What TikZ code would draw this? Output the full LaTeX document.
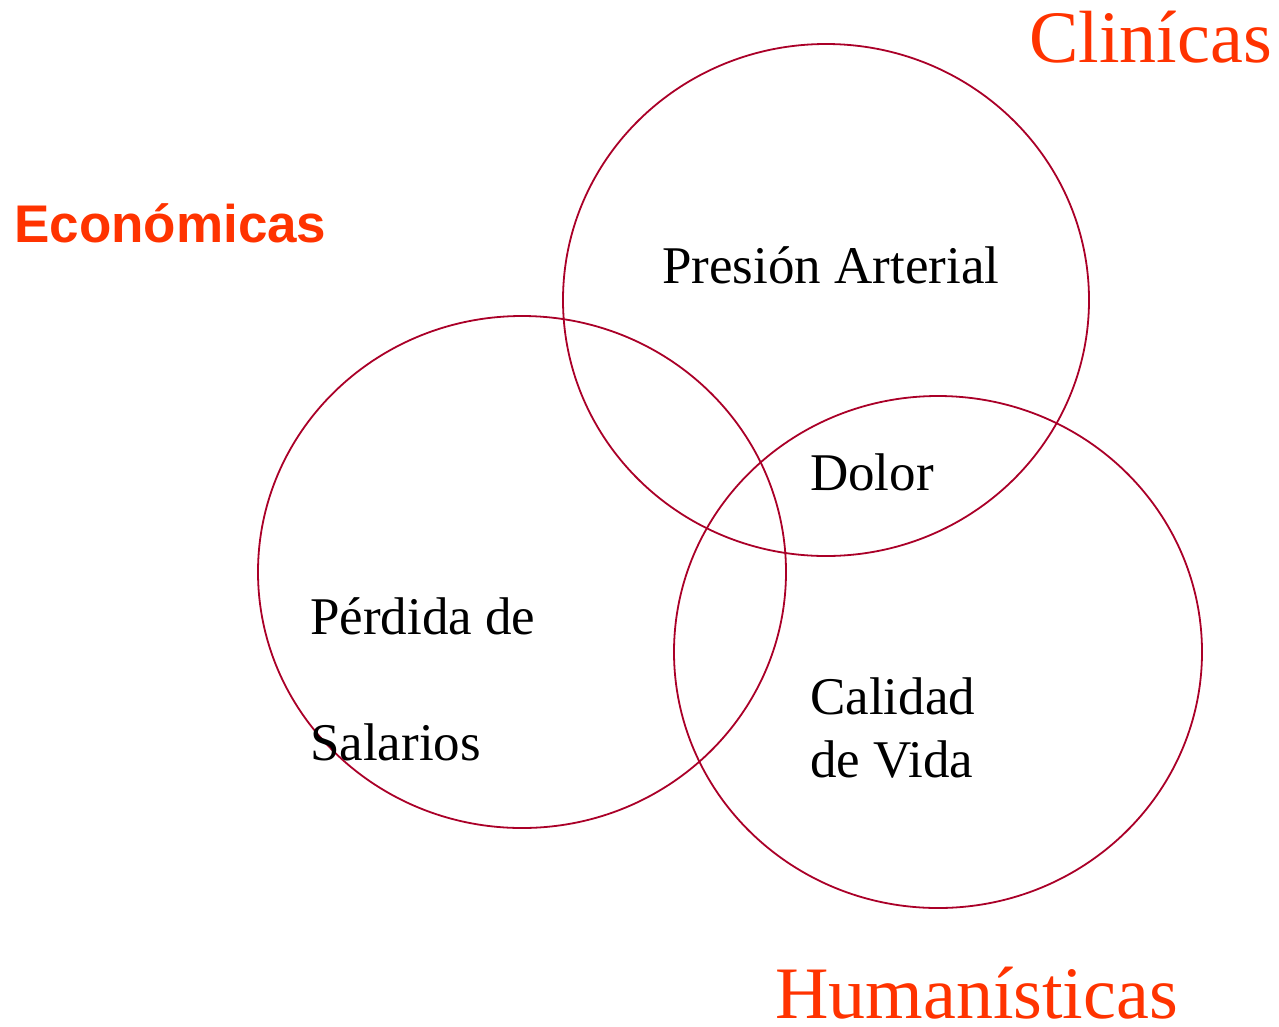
\documentclass[tikz,border=0pt]{standalone}
\usepackage{fontspec}
\setmainfont{Liberation Serif}
\newfontfamily\arialfont{Liberation Sans}
\definecolor{ringred}{RGB}{170,0,40}
\definecolor{titleorange}{RGB}{255,51,0}
\begin{document}
\begin{tikzpicture}[x=1pt,y=-1pt,
  ring/.style={draw=ringred,line width=1.8pt},
  lbl/.style={anchor=base west,inner sep=0pt,font=\fontsize{53}{53}\selectfont},
  bigtitle/.style={anchor=base west,inner sep=0pt,text=titleorange,font=\fontsize{74}{74}\selectfont},
  sanstitle/.style={anchor=base west,inner sep=0pt,text=titleorange,font=\arialfont\bfseries\fontsize{53}{53}\selectfont}]
\useasboundingbox (0,0) rectangle (1279,1026);
\draw[ring] (826,300) ellipse [x radius=263, y radius=256];
\draw[ring] (522,572) ellipse [x radius=264, y radius=256];
\draw[ring] (938,652) ellipse [x radius=264, y radius=256];
\node[bigtitle] (clin) at (1029,62) {Clinícas};
\node[sanstitle] (econ) at (14,242) {Económicas};
\node[bigtitle] (hum) at (775,1018) {Humanísticas};
\node[lbl] (pres) at (662,283) {Presión Arterial};
\node[lbl] (dolor) at (810,490) {Dolor};
\node[lbl] (perd) at (310,634) {Pérdida de};
\node[lbl] (sal) at (310,760) {Salarios};
\node[lbl] (cal) at (810,714) {Calidad};
\node[lbl] (vida) at (810,777) {de Vida};
\end{tikzpicture}
\end{document}
